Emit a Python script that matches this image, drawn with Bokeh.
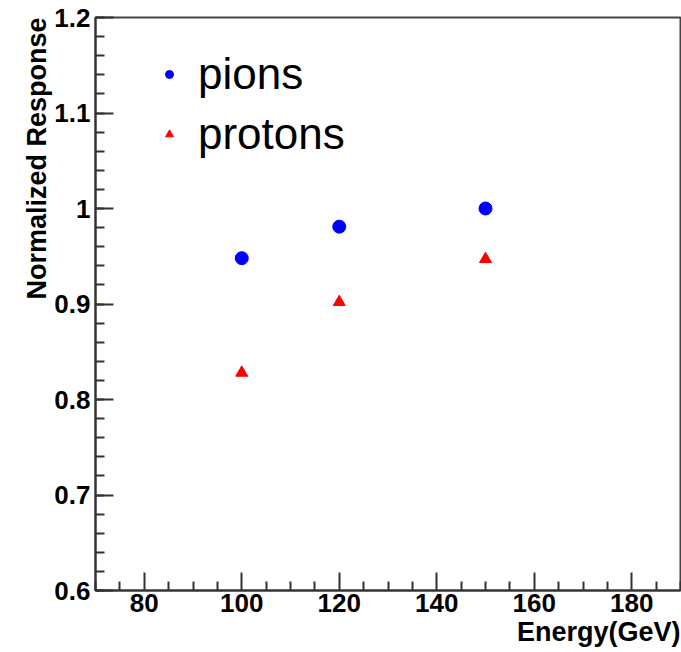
from bokeh.plotting import figure
from bokeh.models import (Range1d, FixedTicker, Legend, LegendItem, Title)
from bokeh.embed import file_html
from bokeh.resources import INLINE

# ---- data ----
energy = [100, 120, 150]
pions = [0.948, 0.981, 1.000]
protons = [0.828, 0.902, 0.947]

x_ticks = [80, 100, 120, 140, 160, 180]
x_tick_labels = ["80", "100", "120", "140", "160", "180"]
x_minor = [70, 75, 85, 90, 95, 105, 110, 115, 125, 130, 135, 145, 150, 155, 165, 170, 175, 185, 190]
y_ticks = [0.6, 0.7, 0.8, 0.9, 1.0, 1.1, 1.2]
y_tick_labels = ["0.6", "0.7", "0.8", "0.9", "1", "1.1", "1.2"]
y_minor = [round(0.6 + 0.02 * i, 2) for i in range(31)]

FONT = "Liberation Sans"

p = figure(frame_width=585, frame_height=573, output_backend="svg", toolbar_location=None,
           x_range=Range1d(70, 190), y_range=Range1d(0.6, 1.2),
           min_border_left=95, min_border_top=17, min_border_right=1, min_border_bottom=62)

p.background_fill_color = "white"
p.border_fill_color = "white"
p.grid.visible = False
p.outline_line_color = "#444444"
p.outline_line_width = 2

for ax, ticks, labels, minor in ((p.xaxis[0], x_ticks, x_tick_labels, x_minor),
                                 (p.yaxis[0], y_ticks, y_tick_labels, y_minor)):
    ax.ticker = FixedTicker(ticks=ticks, minor_ticks=minor)
    ax.major_label_overrides = dict(zip(ticks, labels))
    ax.major_tick_in = 18
    ax.major_tick_out = 0
    ax.minor_tick_in = 9
    ax.minor_tick_out = 0
    ax.axis_line_color = "#333333"
    ax.axis_line_width = 2
    ax.major_tick_line_color = "#333333"
    ax.major_tick_line_width = 2
    ax.minor_tick_line_color = "#333333"
    ax.minor_tick_line_width = 2
    ax.major_label_text_font = FONT
    ax.major_label_text_font_size = "26px"
    ax.major_label_text_font_style = "bold"
    ax.major_label_text_color = "black"

p.yaxis[0].major_label_standoff = 5
p.xaxis[0].major_label_standoff = 3

r1 = p.scatter(energy, pions, marker="circle", size=13, color="#0000ff")
r2 = p.scatter(energy, protons, marker="triangle", size=12, color="#ff0000")

legend = Legend(items=[LegendItem(label="pions", renderers=[r1]),
                       LegendItem(label="protons", renderers=[r2])],
                location=(64, 426), padding=0, margin=0, spacing=0,
                glyph_width=20, glyph_height=60, label_height=60,
                label_standoff=19,
                label_text_font=FONT, label_text_font_size="44px",
                label_text_color="black",
                border_line_color=None, background_fill_alpha=0)
p.add_layout(legend)

ytitle = Title(text="Normalized Response", align="right", text_font=FONT,
               text_font_size="27px", text_font_style="bold", text_color="black",
               standoff=0)
p.add_layout(ytitle, "left")
xtitle = Title(text="Energy(GeV)", align="right", text_font=FONT,
               text_font_size="27px", text_font_style="bold", text_color="black",
               standoff=0)
p.add_layout(xtitle, "below")

open("out.html", "w").write(file_html(p, INLINE))
